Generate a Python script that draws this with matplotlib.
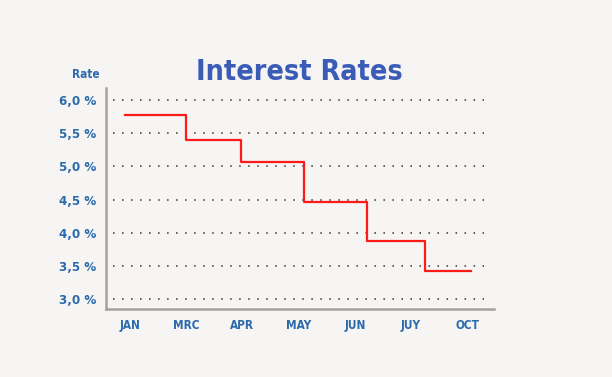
import matplotlib.pyplot as plt

# data
months = ['JAN', 'MRC', 'APR', 'MAY', 'JUN', 'JUY', 'OCT']
rate_ticks = [3.0, 3.5, 4.0, 4.5, 5.0, 5.5, 6.0]
rate_labels = ['3,0 %', '3,5 %', '4,0 %', '4,5 %', '5,0 %', '5,5 %', '6,0 %']
# step edges (in month-index units) and level of each step
step_x = [-0.1, 1.0, 1.98, 3.09, 4.22, 5.25, 6.07]
step_rate = [5.77, 5.40, 5.07, 4.46, 3.87, 3.42]

bg = '#f6f5f3'
blue = '#2b6aab'
lab = dict(family='DejaVu Sans', stretch='condensed', weight='bold')

fig = plt.figure(figsize=(6.12, 3.77), dpi=100, facecolor=bg)
ax = fig.add_axes([0.1732, 0.1804, 0.634, 0.586])
ax.set_facecolor(bg)

ax.set_xlim(-0.43, 6.48)
ax.set_ylim(2.85, 6.18)

# dotted grid lines
for r in rate_ticks:
    ax.plot([-0.3, 6.3], [r, r], color='#333333', lw=1.1,
            linestyle=(0, (1, 4.9)), zorder=1)

# step line
xs = [step_x[0]]
ys = [step_rate[0]]
for i in range(1, len(step_x)):
    xs.append(step_x[i])
    ys.append(step_rate[i - 1])
    if i < len(step_rate):
        xs.append(step_x[i])
        ys.append(step_rate[i])
ax.plot(xs, ys, color='#ff1a1a', lw=1.6, zorder=3)

for s in ['top', 'right']:
    ax.spines[s].set_visible(False)
for s in ['left', 'bottom']:
    ax.spines[s].set_color('#a3a29e')
    ax.spines[s].set_linewidth(1.8)

ax.set_xticks(range(len(months)))
ax.set_xticklabels(months, fontsize=8.5, **lab)
ax.set_yticks(rate_ticks)
ax.set_yticklabels(rate_labels, fontsize=9.5, **lab)
ax.tick_params(length=0, colors=blue)
ax.tick_params(axis='y', pad=7)
ax.tick_params(axis='x', pad=7)

fig.text(86 / 612, 1 - 75 / 377, 'Rate', color=blue, fontsize=8.5,
         ha='center', va='center', **lab)
fig.text(299 / 612, 1 - 72 / 377, 'Interest Rates', color='#3a5cb7',
         fontsize=20.5, ha='center', va='center', **lab)

plt.savefig('out.png', dpi=100, facecolor=bg)
